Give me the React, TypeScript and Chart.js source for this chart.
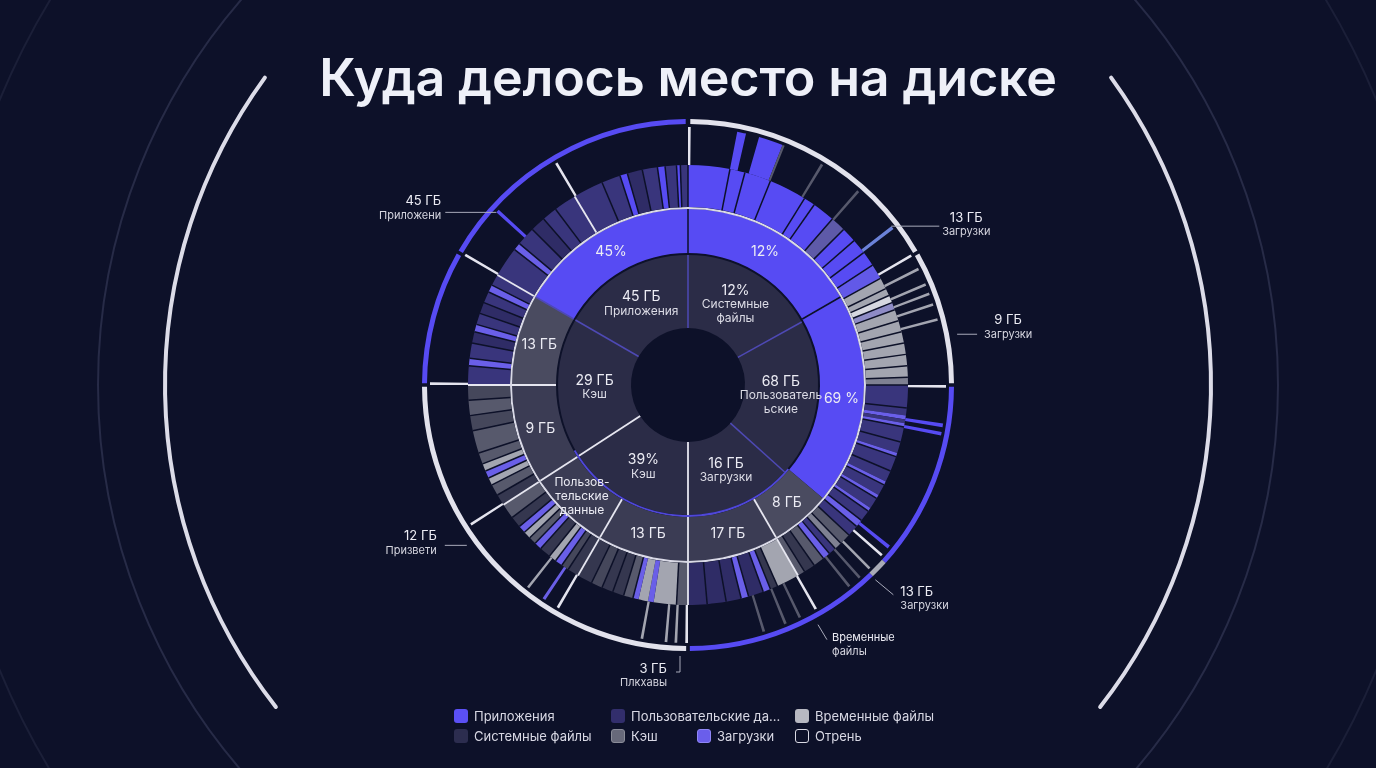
import React, { useEffect, useRef } from 'react';
import { Chart, registerables } from 'chart.js';

Chart.register(...registerables);

const BG = '#0d1129';
const FONT = 'Inter, "Noto Sans", sans-serif';

// ---------------- DATA ----------------
const legendLabels = ['Приложения', 'Системные файлы', 'Пользовательские да...', 'Кэш', 'Временные файлы', 'Загрузки', 'Отрень'];

// inner ring (categories)
const ring1Spans = [61, 71, 48, 57, 63, 60];
const ring1Values = ['12%', '68 ГБ', '16 ГБ', '39%', '29 ГБ', '45 ГБ'];
const ring1Names = ['Системные|файлы', 'Пользователь|ьские', 'Загрузки', 'Кэш', 'Кэш', 'Приложения'];
const ring1Edges = ['v', 'v', 'v', 'w', 'w', 'v'];

// second ring
const ring2Spans = [60, 70, 20, 30, 30, 27, 33, 30, 60];
const ring2Values = ['12%', '69 %', '8 ГБ', '17 ГБ', '13 ГБ', 'Пользов-|тельские|данные', '9 ГБ', '13 ГБ', '45%'];
const ring2Kinds = ['A', 'A', 'g1', 'g2', 'g2', 'g2', 'g2', 'g1', 'A'];
const ring2Edges = ['k', 'k', '-', 'w', 'w', 'w', 'w', 'w', 'v'];

// accent arc between ring 1 and ring 2
const accentSpans = [130, 110, 120];
const accentKinds = ['-', 'X', '-'];

// third ring (files)
const ring3Spans = [
  11, 4, 7, 10, 3, 6, 4, 4, 4, 4, 4,
  3, 2, 2, 2, 3, 3, 3, 3, 3, 3, 2,
  6, 2, 1, 1, 1, 4, 3, 1, 4, 3, 1, 3, 1, 3, 1, 3, 2,
  3, 3, 2, 2, 2, 3, 3, 2,
  6, 2, 2, 4, 2, 4, 5, 5,
  3, 6, 1.5, 2.5, 1.5, 2.5, 3, 3, 3, 4,
  3, 2, 2, 2, 3, 2, 2, 2, 2, 3, 4,
  3, 3, 2, 2, 2, 3, 6, 4, 4, 4,
  5, 2, 4, 3, 2, 3, 3, 3, 2, 3,
  8, 2, 5, 4, 4, 6,
  8, 5, 2, 4, 4, 2, 3, 1, 2,
];
const ring3Kinds = [
  'A', 'A', 'A', 'A', 'A', 'A', 'M', 'A', 'A', 'A', 'E',
  'L', 'L', 'W', 'V', 'L', 'L', 'L', 'L', 'L', 'L', 'H',
  'P', 'P', 'D', 'P', 'D', 'P', 'P', 'D', 'P', 'P', 'D', 'P', 'D', 'P', 'D', 'P', 'D',
  'P', 'G', 'H', 'P', 'D', 'G', 'S', 'G',
  'L', 'S', 'D', 'Q', 'D', 'Q', 'Q', 'Q',
  'G', 'L', 'D', 'L', 'D', 'G', 'S', 'S', 'T', 'S',
  'S', 'T', 'D', 'L', 'S', 'D', 'G', 'L', 'D', 'S', 'G',
  'S', 'G', 'L', 'D', 'L', 'G', 'G', 'T', 'G', 'T',
  'P', 'D', 'P', 'Q', 'D', 'P', 'Q', 'P', 'D', 'P',
  'P', 'D', 'P', 'Q', 'P', 'P',
  'P', 'P', 'A', 'Q', 'P', 'A', 'P', 'A', 'P',
];
const ring3Edges = [
  'k', 'k', 'k', 'k', 'k', 'k', 'k', 'k', 'k', 'k', 'k',
  'k', 'k', 'k', 'k', 'k', 'k', 'k', 'k', 'k', 'k', 'k',
  'k', 'k', '-', '-', '-', 'k', 'k', '-', 'k', 'k', '-', 'k', '-', 'k', '-', 'k', 'k',
  'k', 'k', 'k', 'k', 'k', 'k', 'k', 'k',
  'w', 'k', 'k', 'k', 'k', 'k', 'k', 'k',
  'w', 'k', '-', '-', '-', 'k', 'k', 'k', 'k', 'k',
  'w', 'k', 'k', 'k', 'k', 'k', 'k', 'k', 'k', 'k', 'k',
  'w', 'k', 'k', 'k', 'k', 'k', 'k', 'k', 'k', 'k',
  'w', 'k', 'k', 'k', 'k', 'k', 'k', 'k', 'k', 'k',
  'w', 'k', 'k', 'k', 'k', 'k',
  'w', 'k', 'k', 'k', 'k', 'k', 'k', 'k', 'k',
];

// outer spikes (start angle, width, kind)
const spikeAngles = [0, 11, 16, 21.5, 31, 41, 52, 59.6, 63, 66.8, 69, 71.5, 75, 90, 98.6, 100.5, 128.5, 131, 135, 138, 141, 150, 154, 157.5, 162.6, 180, 182.4, 184.6, 190, 210, 213.6, 218, 237, 270, 300, 312, 329];
const spikeWidths = [0.6, 2, 5.5, 0.5, 0.6, 0.6, 0.8, 0.6, 0.6, 0.6, 0.6, 0.6, 0.6, 0.6, 0.8, 0.8, 0.8, 0.6, 0.6, 0.6, 0.6, 0.6, 0.6, 0.6, 0.6, 0.6, 0.6, 0.6, 0.6, 0.6, 0.7, 0.6, 0.6, 0.6, 0.6, 0.8, 0.6];
const spikeKinds = ['w', 'A', 'A', 'G', 'G', 'G', 'B', 'w', 'L', 'L', 'L', 'L', 'L', 'w', 'A', 'A', 'A', 'w', 'L', 'G', 'G', 'w', 'G', 'G', 'G', 'w', 'L', 'L', 'L', 'w', 'D', 'L', 'w', 'w', 'w', 'A', 'w'];

// outer rim
const rimSpans = [0.5, 59.1, 0.8, 29.2, 0.8, 41.6, 4, 43.6, 0.8, 89.2, 0.8, 29.2, 0.8, 59.1, 0.5];
const rimKinds = ['-', 'R', '-', 'R', '-', 'A', 'r', 'A', '-', 'R', '-', 'A', '-', 'A', '-'];

// callouts
const calloutAngles = [312, 52, 79, 234, 180, 151, 134];
const calloutValues = ['45 ГБ', '13 ГБ', '9 ГБ', '12 ГБ', '3 ГБ', 'Временные', '13 ГБ'];
const calloutNames = ['Приложени', 'Загрузки', 'Загрузки', 'Призвети', 'Плкхавы', 'файлы', 'Загрузки'];

// ---------------- STYLE ----------------
const KIND_COLORS: Record<string, string> = {
  '-': 'rgba(0,0,0,0)',
  A: '#574bf3', E: '#6259e8', M: '#5e5aa8', P: '#39357c', Q: '#2f2c66', D: '#6a5fe8',
  S: '#35374f', G: '#57596c', T: '#45475b', L: '#a3a5b0', H: '#7f8192', W: '#d6d7e0', V: '#8e8bc6',
  B: '#6b82d8', w: '#e4e4ee', g1: '#4a4b60', g2: '#3b3c54', s: '#2b2c47', X: '#4f47d8',
  R: '#e2e2ec', r: '#a9abb6',
};
const EDGE_COLORS: Record<string, string> = { k: '#0d1129', w: '#e6e6f0', v: '#4e49b4' };

const CALLOUT_LAYOUT = [
  { r: 258, pts: [[0, 0], [-51, 0]], tx: -55, ty: -11, align: 'right', small: false },
  { r: 258, pts: [[0, 0], [48, 0]], tx: 75, ty: -8, align: 'center', small: false },
  { r: 266, pts: [[8, 0], [28, 0]], tx: 59, ty: -14, align: 'center', small: false },
  { r: 266, pts: [[-6, 4], [-28, 4]], tx: -36, ty: -5, align: 'right', small: false },
  { r: 266, pts: [[-8, 5], [-8, 21], [-12, 21]], tx: -21, ty: 18, align: 'right', small: false },
  { r: 266, pts: [[1, 7], [10, 22]], tx: 15, ty: 20, align: 'left', small: true },
  { r: 266, pts: [[-4, 10], [14, 25]], tx: 21, ty: 22, align: 'left', small: false },
];

const LEGEND_POS = [[454, 709], [454, 729], [611, 709], [611, 729], [795, 709], [697, 729], [795, 729]];
const LEGEND_FILL = ['#5b50f5', '#2c2d4f', '#322e6c', '#67697a', '#b7b8c1', '#6a5eeb', 'transparent'];
const LEGEND_BORDER = ['none', 'none', 'none', '1px solid #8a8c98', 'none', '1.5px solid #8f86f5', '1.5px solid #dadae4'];

function buildSpikes() {
  const spans: number[] = [];
  const kinds: string[] = [];
  let pos = 0;
  spikeAngles.forEach((a, i) => {
    if (a > pos) { spans.push(a - pos); kinds.push('-'); }
    spans.push(spikeWidths[i]);
    kinds.push(spikeKinds[i]);
    pos = a + spikeWidths[i];
  });
  if (pos < 360) { spans.push(360 - pos); kinds.push('-'); }
  return { spans, kinds };
}

const col = (k: string) => KIND_COLORS[k];
const toRad = (deg: number) => ((deg - 90) * Math.PI) / 180;

const decorPlugin = {
  id: 'decor',
  beforeDatasetsDraw(chart: any) {
    const arc = chart.getDatasetMeta(0).data[0];
    if (!arc) return;
    const { x, y } = arc.getProps(['x', 'y'], true);
    const ctx = chart.ctx;
    ctx.save();
    ctx.lineCap = 'round';
    const circle = (r: number, w: number, c: string, a0 = 0, a1 = 360) => {
      ctx.beginPath();
      ctx.strokeStyle = c;
      ctx.lineWidth = w;
      ctx.arc(x, y, r, toRad(a0), toRad(a1));
      ctx.stroke();
    };
    circle(745, 2, '#1b1f38');
    circle(590, 2, '#272b47');
    circle(523, 4, '#dcdce8', 232, 306);
    circle(523, 4, '#dcdce8', 54, 128);
    ctx.restore();
  },
  afterDatasetsDraw(chart: any) {
    const ctx = chart.ctx;
    ctx.save();
    // edges
    chart.data.datasets.forEach((ds: any, di: number) => {
      if (!ds.edges) return;
      const meta = chart.getDatasetMeta(di);
      meta.data.forEach((arc: any, j: number) => {
        const e = ds.edges[j];
        if (!e || e === '-') return;
        const p = arc.getProps(['x', 'y', 'startAngle', 'innerRadius', 'outerRadius'], true);
        ctx.beginPath();
        ctx.strokeStyle = EDGE_COLORS[e];
        ctx.lineWidth = e === 'w' ? 1.8 : 1.5;
        ctx.moveTo(p.x + Math.cos(p.startAngle) * p.innerRadius, p.y + Math.sin(p.startAngle) * p.innerRadius);
        ctx.lineTo(p.x + Math.cos(p.startAngle) * p.outerRadius, p.y + Math.sin(p.startAngle) * p.outerRadius);
        ctx.stroke();
      });
    });
    // in-ring texts
    ctx.textAlign = 'center';
    ctx.textBaseline = 'middle';
    chart.data.datasets.forEach((ds: any, di: number) => {
      if (!ds.texts) return;
      const meta = chart.getDatasetMeta(di);
      meta.data.forEach((arc: any, j: number) => {
        const lines = ds.texts[j];
        if (!lines) return;
        const p = arc.getProps(['x', 'y', 'startAngle', 'endAngle', 'innerRadius', 'outerRadius'], true);
        const mid = (p.startAngle + p.endAngle) / 2;
        const r = (p.innerRadius + p.outerRadius) / 2;
        const cx = p.x + Math.cos(mid) * r;
        const cy = p.y + Math.sin(mid) * r;
        const lh = 14;
        lines.forEach((ln: any, k: number) => {
          ctx.font = `400 ${ln.size}px ${FONT}`;
          ctx.fillStyle = ln.color;
          ctx.fillText(ln.t, cx, cy + (k - (lines.length - 1) / 2) * lh);
        });
      });
    });
    // callouts
    const rim = chart.getDatasetMeta(0).data[0];
    if (rim) {
      const { x, y } = rim.getProps(['x', 'y'], true);
      calloutAngles.forEach((a, i) => {
        const L = CALLOUT_LAYOUT[i];
        const px = x + Math.cos(toRad(a)) * L.r;
        const py = y + Math.sin(toRad(a)) * L.r;
        ctx.beginPath();
        ctx.strokeStyle = '#a8aaba';
        ctx.lineWidth = 1;
        L.pts.forEach(([dx, dy], k) => {
          if (k === 0) ctx.moveTo(px + dx, py + dy); else ctx.lineTo(px + dx, py + dy);
        });
        ctx.stroke();
        ctx.textAlign = L.align as CanvasTextAlign;
        ctx.textBaseline = 'middle';
        ctx.fillStyle = '#ececf4';
        ctx.font = `400 ${L.small ? 11 : 13}px ${FONT}`;
        ctx.fillText(calloutValues[i], px + L.tx, py + L.ty);
        ctx.fillStyle = '#d4d4de';
        ctx.font = `400 11px ${FONT}`;
        ctx.fillText(calloutNames[i], px + L.tx, py + L.ty + 14);
      });
    }
    ctx.restore();
  },
};

export default function App() {
  const ref = useRef<HTMLCanvasElement>(null);
  useEffect(() => {
    document.body.style.margin = '0';
    document.body.style.background = BG;
    const spikes = buildSpikes();
    const ring1Texts = ring1Values.map((v, i) => [
      { t: v, size: 14, color: '#ececf4' },
      ...ring1Names[i].split('|').map((n) => ({ t: n, size: 12, color: '#dcdce6' })),
    ]);
    const ring2Texts = ring2Values.map((v) => {
      const parts = v.split('|');
      return parts.map((t) => ({ t, size: parts.length > 1 ? 12 : 14, color: '#ececf4' }));
    });
    const base = { borderWidth: 0, hoverOffset: 0 };
    const chart = new Chart(ref.current as HTMLCanvasElement, {
      type: 'doughnut',
      data: {
        labels: [],
        datasets: [
          { ...base, data: rimSpans, backgroundColor: rimKinds.map(col), weight: 5 },
          { ...base, data: [360], backgroundColor: [col('-')], weight: 3 },
          { ...base, data: spikes.spans, backgroundColor: spikes.kinds.map(col), weight: 38 },
          { ...base, data: ring3Spans, backgroundColor: ring3Kinds.map(col), weight: 42, edges: ring3Edges },
          { ...base, data: [360], backgroundColor: ['#d9d9e6'], weight: 2 },
          { ...base, data: ring2Spans, backgroundColor: ring2Kinds.map(col), weight: 44, edges: ring2Edges, texts: ring2Texts },
          { ...base, data: accentSpans, backgroundColor: accentKinds.map(col), weight: 2 },
          { ...base, data: ring1Spans, backgroundColor: ring1Spans.map(() => col('s')), weight: 73, edges: ring1Edges, texts: ring1Texts },
        ] as any,
      },
      options: {
        responsive: false,
        animation: false,
        events: [],
        radius: 266,
        cutout: '21.43%',
        layout: { padding: { left: 400, right: 400, top: 97, bottom: 95 } },
        plugins: { legend: { display: false }, tooltip: { enabled: false } },
      } as any,
      plugins: [decorPlugin],
    });
    return () => chart.destroy();
  }, []);

  return (
    <div style={{ position: 'relative', width: 1376, height: 768, background: BG, overflow: 'hidden', fontFamily: FONT }}>
      <canvas ref={ref} width={1376} height={768} style={{ position: 'absolute', left: 0, top: 0, width: 1376, height: 768 }} />
      <div style={{ position: 'absolute', left: 0, top: 48, width: '100%', textAlign: 'center', color: '#eef0f8', fontSize: 52, fontWeight: 600, lineHeight: '60px', letterSpacing: '-0.2px' }}>
        Куда делось место на диске
      </div>
      {legendLabels.map((label, i) => (
        <div key={label} style={{ position: 'absolute', left: LEGEND_POS[i][0], top: LEGEND_POS[i][1], display: 'flex', alignItems: 'center', height: 14 }}>
          <div style={{ width: 14, height: 14, boxSizing: 'border-box', borderRadius: 3, background: LEGEND_FILL[i], border: LEGEND_BORDER[i] }} />
          <span style={{ marginLeft: 6, fontSize: 13, lineHeight: '14px', color: '#d8d8e4', whiteSpace: 'nowrap' }}>{label}</span>
        </div>
      ))}
    </div>
  );
}
